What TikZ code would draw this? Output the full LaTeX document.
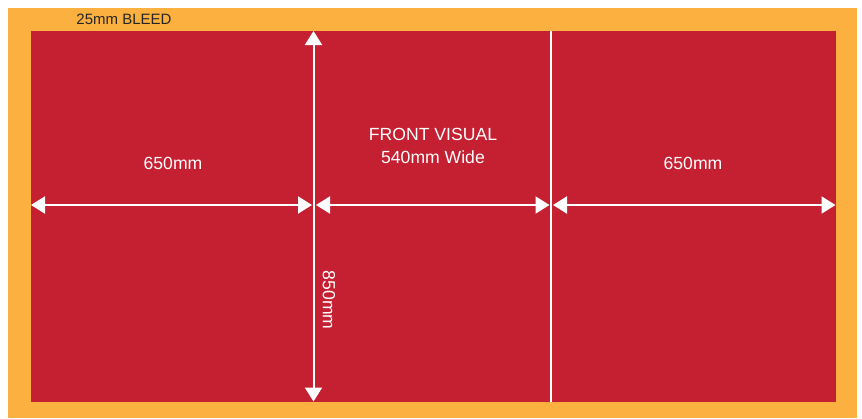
\documentclass[tikz,border=0pt]{standalone}
\usepackage{fontspec}
\setmainfont{Liberation Sans}
\usetikzlibrary{arrows.meta}
\definecolor{bleed}{HTML}{FBB040}
\definecolor{panel}{HTML}{C42032}
\tikzset{
  dimarrow/.style={draw=white, line width=2pt, {Triangle[length=14pt,width=17pt]}-{Triangle[length=14pt,width=17pt]}},
  divider/.style={draw=white, line width=2.5pt},
  lbl/.style={text=white, font=\fontsize{17.6}{20}\selectfont, inner sep=0pt},
  bleedlbl/.style={text=black!85, font=\fontsize{15}{18}\selectfont, inner sep=0pt}
}
\begin{document}
\begin{tikzpicture}[x=1pt,y=-1pt]
\useasboundingbox (0,0) rectangle (862,418);
\fill[white] (0,0) rectangle (862,418);
\fill[bleed] (8,8) rectangle (857,418);
\fill[panel] (30.5,30.5) rectangle (835.5,401.5);
\node[bleedlbl] (bl) at (124,19.5) {25mm BLEED};
% coordinates
\coordinate (L) at (31,205);
\coordinate (M1a) at (312,205);
\coordinate (M1b) at (316,205);
\coordinate (M2a) at (549.5,205);
\coordinate (M2b) at (553,205);
\coordinate (R) at (835.5,205);
\coordinate (T) at (313.5,31);
\coordinate (B) at (313.5,401.5);
\coordinate (DT) at (551,30.5);
\coordinate (DB) at (551,401.5);
\draw[divider] (DT) -- (DB);
\draw[dimarrow] (L) -- (M1a);
\draw[dimarrow] (M1b) -- (M2a);
\draw[dimarrow] (M2b) -- (R);
\draw[dimarrow] (T) -- (B);
\node[lbl] (w1) at (173,163) {650mm};
\node[lbl] (fv) at (433,134) {FRONT VISUAL};
\node[lbl] (w2) at (433,157) {540mm Wide};
\node[lbl] (w3) at (693,163) {650mm};
\node[lbl, rotate=-90] (h) at (329,300) {850mm};
\end{tikzpicture}
\end{document}
